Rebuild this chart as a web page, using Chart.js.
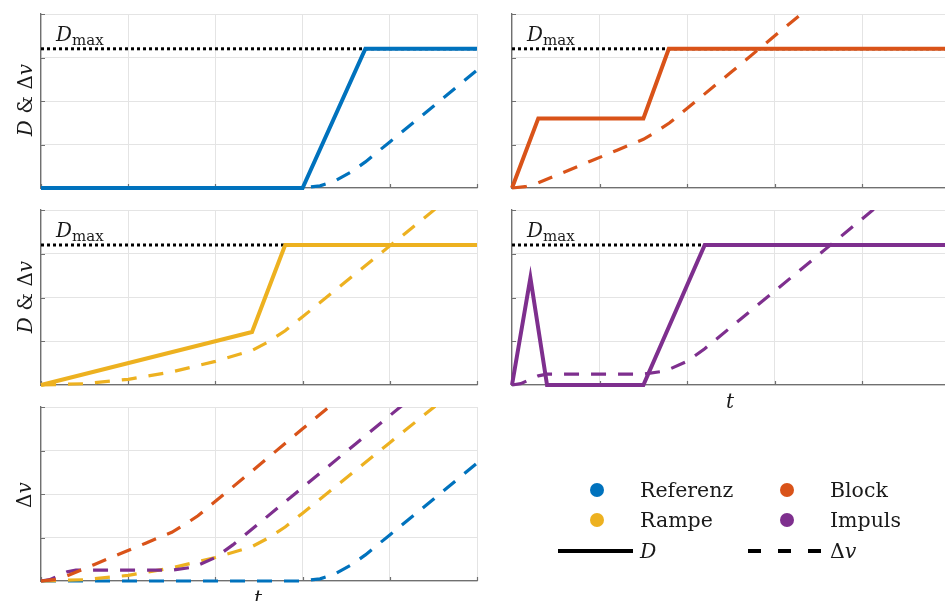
<!DOCTYPE html>
<html>
<head>
<meta charset="utf-8">
<script src="https://cdn.jsdelivr.net/npm/chart.js@4.4.0/dist/chart.umd.min.js"></script>
<style>
  html, body { margin: 0; padding: 0; background: #fff; overflow: hidden; width: 945px; height: 601px; }
  .panel { position: absolute; }
  #overlay { position: absolute; left: 0; top: 0; z-index: 2; pointer-events: none; }
</style>
</head>
<body>
<div class="panel" style="left:31px;top:4px;"><canvas id="pRef" width="456" height="194"></canvas></div>
<div class="panel" style="left:502px;top:4px;"><canvas id="pBlk" width="458" height="194"></canvas></div>
<div class="panel" style="left:31px;top:200px;"><canvas id="pRmp" width="456" height="195"></canvas></div>
<div class="panel" style="left:502px;top:200px;"><canvas id="pImp" width="458" height="195"></canvas></div>
<div class="panel" style="left:31px;top:397px;"><canvas id="pDv" width="456" height="194"></canvas></div>

<svg id="overlay" width="945" height="601" font-family="DejaVu Serif" fill="#1a1a1a">
  <!-- D_max labels -->
  <text x="56" y="41" font-size="20"><tspan font-style="italic">D</tspan><tspan font-size="15" dy="4">max</tspan></text>
  <text x="527" y="41" font-size="20"><tspan font-style="italic">D</tspan><tspan font-size="15" dy="4">max</tspan></text>
  <text x="56" y="237" font-size="20"><tspan font-style="italic">D</tspan><tspan font-size="15" dy="4">max</tspan></text>
  <text x="527" y="237" font-size="20"><tspan font-style="italic">D</tspan><tspan font-size="15" dy="4">max</tspan></text>

  <!-- axis titles -->
  <text transform="translate(32,100) rotate(-90)" text-anchor="middle" font-size="20"><tspan font-style="italic">D</tspan> &amp; Δ<tspan font-style="italic">v</tspan></text>
  <text transform="translate(32,297) rotate(-90)" text-anchor="middle" font-size="20"><tspan font-style="italic">D</tspan> &amp; Δ<tspan font-style="italic">v</tspan></text>
  <text transform="translate(31,495) rotate(-90)" text-anchor="middle" font-size="20">Δ<tspan font-style="italic">v</tspan></text>
  <text x="730" y="408" text-anchor="middle" font-size="20" font-style="italic">t</text>
  <text x="258" y="605" text-anchor="middle" font-size="20" font-style="italic">t</text>

  <!-- legend -->
  <circle cx="597" cy="490" r="7" fill="#0072BD"/>
  <circle cx="597" cy="520" r="7" fill="#EDB120"/>
  <circle cx="787" cy="490" r="7" fill="#D95319"/>
  <circle cx="787" cy="520" r="7" fill="#7E2F8E"/>
  <text x="640" y="497" font-size="20.5">Referenz</text>
  <text x="640" y="527" font-size="20.5">Rampe</text>
  <text x="830" y="497" font-size="20.5">Block</text>
  <text x="830" y="527" font-size="20.5">Impuls</text>
  <line x1="558" y1="551" x2="633" y2="551" stroke="#000" stroke-width="4"/>
  <line x1="748" y1="551" x2="823" y2="551" stroke="#000" stroke-width="4" stroke-dasharray="13 17"/>
  <text x="640" y="558" font-size="20.5" font-style="italic">D</text>
  <text x="830" y="558" font-size="20.5">Δ<tspan font-style="italic">v</tspan></text>
</svg>

<script>
// Time axis 0..5, value axis 0..4 (grid units)
const T_MAX = 5;
const Y_MAX = 4;
const D_MAX = 3.2;

const COLORS = { ref: '#0072BD', blk: '#D95319', rmp: '#EDB120', imp: '#7E2F8E' };
const GRID_COLOR = '#e4e4e4';
const AXIS_COLOR = '#707070';

// Referenz
const refD_t  = [0, 3.0, 3.72, 5];
const refD    = [0, 0,   3.2,  3.2];
const refDv_t = [0, 3.0, 3.2,  3.36, 3.55, 3.72, 4.0,  4.5,  5.0];
const refDv   = [0, 0,   0.05, 0.15, 0.36, 0.6,  1.06, 1.88, 2.71];

// Block
const blkD_t  = [0, 0.3, 1.5, 1.79, 5];
const blkD    = [0, 1.6, 1.6, 3.2,  3.2];
const blkDv_t = [0, 0.15, 0.3,  0.6,  0.9,  1.2,  1.5,  1.65, 1.8, 2.5,  3.0, 3.32];
const blkDv   = [0, 0.03, 0.12, 0.37, 0.62, 0.87, 1.12, 1.3,  1.5, 2.66, 3.5, 4.03];

// Rampe
const rmpD_t  = [0, 2.42, 2.8, 5];
const rmpD    = [0, 1.21, 3.2, 3.2];
const rmpDv_t = [0, 0.5,  1.0,  1.5, 2.0,  2.42, 2.6,  2.8,  3.0,  4.0,  4.52];
const rmpDv   = [0, 0.03, 0.13, 0.3, 0.54, 0.79, 0.98, 1.24, 1.56, 3.18, 4.02];

// Impuls
const impD_t  = [0, 0.21, 0.4, 1.5, 2.2, 5];
const impD    = [0, 2.45, 0,   0,   3.2, 3.2];
const impDv_t = [0, 0.1,  0.21, 0.3,  0.4,  1.5,  1.75, 2.0,  2.2,  3.0,  3.6,  4.15];
const impDv   = [0, 0.03, 0.13, 0.21, 0.25, 0.25, 0.32, 0.54, 0.83, 2.15, 3.14, 4.05];

const pts = (ts, ys) => ts.map((t, i) => ({ x: t, y: ys[i] }));

// let lines spill past the bottom/left edges, but cut them at the top
const CLIP = { left: 4, right: 4, bottom: 4, top: 0 };

const solid = (color, ts, ys) => ({
  data: pts(ts, ys), borderColor: color, borderWidth: 4,
  pointRadius: 0, fill: false, tension: 0, borderCapStyle: 'butt', clip: CLIP
});
const dashed = (color, ts, ys) => ({
  data: pts(ts, ys), borderColor: color, borderWidth: 3.2,
  borderDash: [15, 12], pointRadius: 0, fill: false, tension: 0, borderCapStyle: 'butt', clip: CLIP
});
const dmaxLine = () => ({
  data: pts([0, T_MAX], [D_MAX, D_MAX]), borderColor: '#000', borderWidth: 3,
  borderDash: [3, 3], pointRadius: 0, fill: false, borderCapStyle: 'butt', clip: CLIP
});

// small inward tick marks on the left and bottom axes
const innerTicks = {
  id: 'innerTicks',
  beforeDatasetsDraw(chart) {
    const { ctx, chartArea: a, scales: { x, y } } = chart;
    ctx.save();
    ctx.strokeStyle = AXIS_COLOR;
    ctx.lineWidth = 1.2;
    ctx.beginPath();
    y.ticks.forEach(t => {
      const py = Math.round(y.getPixelForValue(t.value)) + 0.5;
      ctx.moveTo(a.left, py); ctx.lineTo(a.left + 4, py);
    });
    x.ticks.forEach(t => {
      const px = Math.round(x.getPixelForValue(t.value)) + 0.5;
      ctx.moveTo(px, a.bottom); ctx.lineTo(px, a.bottom - 4);
    });
    ctx.stroke();
    ctx.restore();
  }
};

function panel(id, datasets) {
  return new Chart(document.getElementById(id), {
    type: 'line',
    data: { datasets },
    options: {
      responsive: false,
      animation: false,
      devicePixelRatio: 1,
      layout: { padding: 10 },
      plugins: { legend: { display: false }, tooltip: { enabled: false } },
      scales: {
        x: {
          type: 'linear', min: 0, max: T_MAX,
          ticks: { display: false, stepSize: 1 },
          grid: { color: GRID_COLOR, lineWidth: 1, drawTicks: false },
          border: { display: true, color: AXIS_COLOR, width: 1.3 }
        },
        y: {
          type: 'linear', min: 0, max: Y_MAX,
          ticks: { display: false, stepSize: 1 },
          grid: { color: GRID_COLOR, lineWidth: 1, drawTicks: false },
          border: { display: true, color: AXIS_COLOR, width: 1.3 }
        }
      }
    },
    plugins: [innerTicks]
  });
}

panel('pRef', [solid(COLORS.ref, refD_t, refD), dashed(COLORS.ref, refDv_t, refDv), dmaxLine()]);
panel('pBlk', [solid(COLORS.blk, blkD_t, blkD), dashed(COLORS.blk, blkDv_t, blkDv), dmaxLine()]);
panel('pRmp', [solid(COLORS.rmp, rmpD_t, rmpD), dashed(COLORS.rmp, rmpDv_t, rmpDv), dmaxLine()]);
panel('pImp', [solid(COLORS.imp, impD_t, impD), dashed(COLORS.imp, impDv_t, impDv), dmaxLine()]);
panel('pDv', [
  dashed(COLORS.blk, blkDv_t, blkDv),
  dashed(COLORS.imp, impDv_t, impDv),
  dashed(COLORS.rmp, rmpDv_t, rmpDv),
  dashed(COLORS.ref, refDv_t, refDv)
]);
</script>
</body>
</html>
